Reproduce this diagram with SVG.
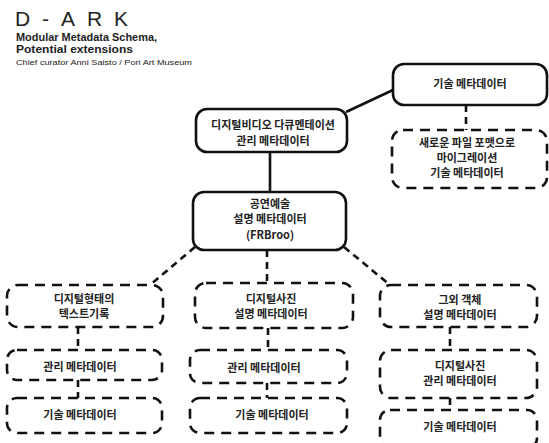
<svg xmlns="http://www.w3.org/2000/svg" width="549" height="443" viewBox="0 0 549 443">
<style>
.solid{fill:#fff;stroke:#111;stroke-width:2.6}
.dash{fill:#fff;stroke:#111;stroke-width:2.6;stroke-dasharray:10 7}
.ln{fill:none;stroke:#111;stroke-width:2.6}
.dl{fill:none;stroke:#111;stroke-width:2.6;stroke-dasharray:7 5}
.t{font-family:"Noto Sans CJK KR","Noto Sans",sans-serif;font-size:11px;font-weight:bold;fill:#222;text-anchor:middle}
.h{font-family:"Liberation Sans",Arial,sans-serif;fill:#222}
</style>
<rect width="549" height="443" fill="#fff"/>
<g id="title">
<text class="h" x="15" y="26" font-size="21" textLength="113" lengthAdjust="spacing">D-ARK</text>
<text class="h" x="16" y="40.5" font-size="10" font-weight="bold" textLength="141" lengthAdjust="spacingAndGlyphs">Modular Metadata Schema,</text>
<text class="h" x="16" y="52.5" font-size="10" font-weight="bold" textLength="117" lengthAdjust="spacingAndGlyphs">Potential extensions</text>
<text class="h" x="16" y="64.5" font-size="7.5" fill="#444" textLength="176" lengthAdjust="spacingAndGlyphs">Chief curator Anni Saisto / Pori Art Museum</text>
</g>
<g id="connectors">
<line class="ln" x1="393" y1="90" x2="346" y2="112"/>
<line class="ln" x1="270" y1="152" x2="270" y2="192"/>
<line class="dl" x1="466" y1="105" x2="466" y2="130"/>
<line class="dl" x1="195" y1="247" x2="150" y2="285"/>
<line class="dl" x1="267" y1="250" x2="267" y2="283"/>
<line class="dl" x1="344" y1="247" x2="390" y2="285"/>
<line class="dl" x1="78" y1="327" x2="78" y2="350"/>
<line class="dl" x1="78" y1="380" x2="78" y2="398"/>
<line class="dl" x1="268" y1="328" x2="268" y2="350"/>
<line class="dl" x1="267" y1="383" x2="267" y2="398"/>
<line class="dl" x1="450" y1="327" x2="450" y2="350"/>
<line class="dl" x1="450" y1="398" x2="450" y2="410"/>
</g>
<g id="n-tech-top">
<rect class="solid" x="393" y="64" width="154" height="41" rx="11"/>
<text class="t" x="470" y="88">기술 메타데이터</text>
</g>
<g id="n-video">
<rect class="solid" x="196" y="109" width="151" height="43" rx="11"/>
<text class="t" x="273" y="129">디지털비디오 다큐멘테이션</text>
<text class="t" x="273" y="145">관리 메타데이터</text>
</g>
<g id="n-migration">
<rect class="dash" x="392" y="130" width="155" height="58" rx="11"/>
<text class="t" x="467" y="147">새로운 파일 포맷으로</text>
<text class="t" x="467" y="162">마이그레이션</text>
<text class="t" x="467" y="177">기술 메타데이터</text>
</g>
<g id="n-performing">
<rect class="solid" x="193" y="192" width="153" height="58" rx="11"/>
<text class="t" x="270" y="208">공연예술</text>
<text class="t" x="270" y="223">설명 메타데이터</text>
<text class="t" x="270" y="239">(FRBroo)</text>
</g>
<g id="n-text-records">
<rect class="dash" x="7" y="285" width="156" height="42" rx="11"/>
<text class="t" x="84" y="303">디지털형태의</text>
<text class="t" x="84" y="318">텍스트기록</text>
</g>
<g id="n-text-admin">
<rect class="dash" x="7" y="350" width="155" height="30" rx="10"/>
<text class="t" x="80" y="371">관리 메타데이터</text>
</g>
<g id="n-text-tech">
<rect class="dash" x="7" y="398" width="155" height="35" rx="10"/>
<text class="t" x="80" y="419">기술 메타데이터</text>
</g>
<g id="n-photo-desc">
<rect class="dash" x="195" y="283" width="158" height="45" rx="11"/>
<text class="t" x="271" y="303">디지털사진</text>
<text class="t" x="271" y="318">설명 메타데이터</text>
</g>
<g id="n-photo-admin">
<rect class="dash" x="190" y="350" width="157" height="33" rx="10"/>
<text class="t" x="264" y="372">관리 메타데이터</text>
</g>
<g id="n-photo-tech">
<rect class="dash" x="190" y="398" width="157" height="35" rx="10"/>
<text class="t" x="272" y="419">기술 메타데이터</text>
</g>
<g id="n-other-desc">
<rect class="dash" x="380" y="285" width="157" height="42" rx="11"/>
<text class="t" x="460" y="304">그외 객체</text>
<text class="t" x="460" y="319">설명 메타데이터</text>
</g>
<g id="n-other-admin">
<rect class="dash" x="380" y="350" width="157" height="48" rx="11"/>
<text class="t" x="460" y="370">디지털사진</text>
<text class="t" x="460" y="385">관리 메타데이터</text>
</g>
<g id="n-other-tech">
<rect class="dash" x="380" y="410" width="157" height="38" rx="10"/>
<text class="t" x="460" y="431">기술 메타데이터</text>
</g>
</svg>
